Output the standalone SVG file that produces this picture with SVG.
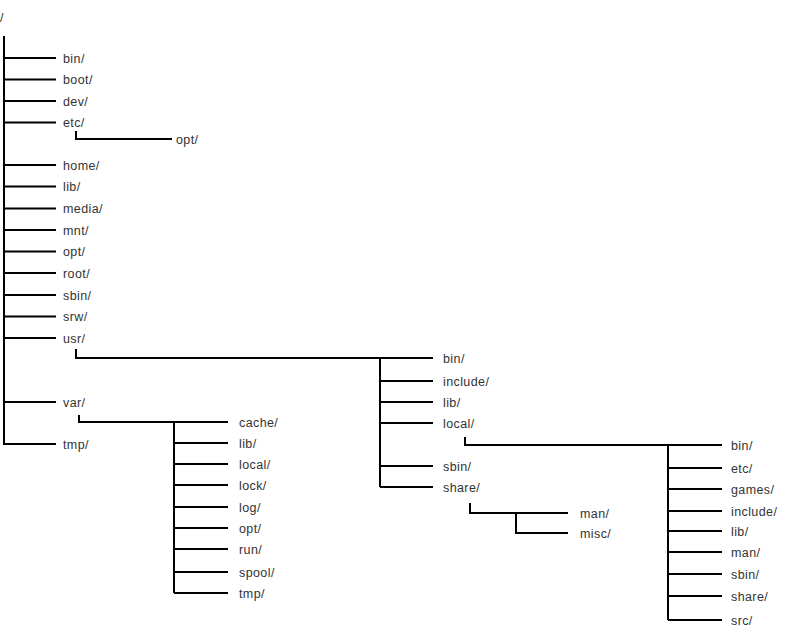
<svg xmlns="http://www.w3.org/2000/svg" width="798" height="634" viewBox="0 0 798 634">
<style>
  text { font-family: "Liberation Sans", Arial, sans-serif; font-size: 12.5px; fill: #333; letter-spacing: 0.4px; }
  .c path { fill: none; stroke: #000; stroke-width: 2; }
</style>
<rect width="798" height="634" fill="#fff"/>
<g class="c" id="connectors">
  <path d="M4,36 V445"/>
  <path d="M4,58 H56 M4,79.5 H56 M4,101 H56 M4,122.5 H56 M4,165 H56 M4,186.5 H56 M4,208.5 H56 M4,230 H56 M4,251.5 H56 M4,273 H56 M4,295 H56 M4,316.5 H56 M4,338 H56 M4,402 H56 M4,444 H56"/>
  <path d="M76,131 V139 H172"/>
  <path d="M76,349 V358 H433"/>
  <path d="M380,358 V487 M380,381 H433 M380,402 H433 M380,423 H433 M380,466 H433 M380,487 H433"/>
  <path d="M465,437 V445 H722"/>
  <path d="M668,445 V620 M668,468 H722 M668,489 H722 M668,511 H722 M668,531 H722 M668,552 H722 M668,574 H722 M668,596 H722 M668,620 H722"/>
  <path d="M470,503 V513 H568 M516,513 V533 H568"/>
  <path d="M79,415 V422 H228"/>
  <path d="M174,422 V593 M174,443 H228 M174,464 H228 M174,485 H228 M174,507 H228 M174,528 H228 M174,549 H228 M174,572 H228 M174,593 H228"/>
</g>
<g id="root"><text x="0" y="22">/</text></g>
<g id="bin"><text x="63" y="62.5">bin/</text></g>
<g id="boot"><text x="63" y="84">boot/</text></g>
<g id="dev"><text x="63" y="105.5">dev/</text></g>
<g id="etc"><text x="63" y="127">etc/</text></g>
<g id="etc-opt"><text x="176" y="143.5">opt/</text></g>
<g id="home"><text x="63" y="169.5">home/</text></g>
<g id="lib"><text x="63" y="191">lib/</text></g>
<g id="media"><text x="63" y="213">media/</text></g>
<g id="mnt"><text x="63" y="234.5">mnt/</text></g>
<g id="opt"><text x="63" y="256">opt/</text></g>
<g id="rootdir"><text x="63" y="277.5">root/</text></g>
<g id="sbin"><text x="63" y="299.5">sbin/</text></g>
<g id="srw"><text x="63" y="321">srw/</text></g>
<g id="usr"><text x="63" y="342.5">usr/</text></g>
<g id="var"><text x="63" y="406.5">var/</text></g>
<g id="tmp"><text x="63" y="448.5">tmp/</text></g>
<g id="usr-bin"><text x="443" y="362.5">bin/</text></g>
<g id="usr-include"><text x="443" y="385.5">include/</text></g>
<g id="usr-lib"><text x="443" y="406.5">lib/</text></g>
<g id="usr-local"><text x="443" y="427.5">local/</text></g>
<g id="usr-sbin"><text x="443" y="470.5">sbin/</text></g>
<g id="usr-share"><text x="443" y="491.5">share/</text></g>
<g id="share-man"><text x="580" y="517.5">man/</text></g>
<g id="share-misc"><text x="580" y="537.5">misc/</text></g>
<g id="local-bin"><text x="731" y="449.5">bin/</text></g>
<g id="local-etc"><text x="731" y="472.5">etc/</text></g>
<g id="local-games"><text x="731" y="493.5">games/</text></g>
<g id="local-include"><text x="731" y="515.5">include/</text></g>
<g id="local-lib"><text x="731" y="535.5">lib/</text></g>
<g id="local-man"><text x="731" y="556.5">man/</text></g>
<g id="local-sbin"><text x="731" y="578.5">sbin/</text></g>
<g id="local-share"><text x="731" y="600.5">share/</text></g>
<g id="local-src"><text x="731" y="624.5">src/</text></g>
<g id="var-cache"><text x="239" y="426.5">cache/</text></g>
<g id="var-lib"><text x="239" y="447.5">lib/</text></g>
<g id="var-local"><text x="239" y="468.5">local/</text></g>
<g id="var-lock"><text x="239" y="489.5">lock/</text></g>
<g id="var-log"><text x="239" y="511.5">log/</text></g>
<g id="var-opt"><text x="239" y="532.5">opt/</text></g>
<g id="var-run"><text x="239" y="553.5">run/</text></g>
<g id="var-spool"><text x="239" y="576.5">spool/</text></g>
<g id="var-tmp"><text x="239" y="597.5">tmp/</text></g>
</svg>
